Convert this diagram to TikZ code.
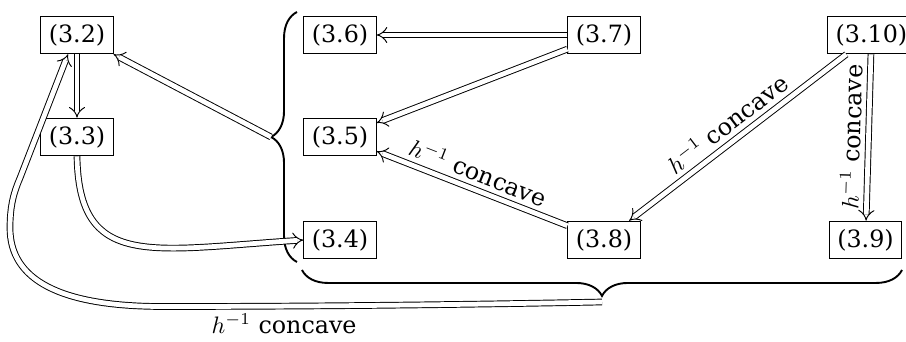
\documentclass[tikz,border=0pt]{standalone}
\usepackage[no-math]{fontspec}
\setmainfont{DejaVu Serif}
\usetikzlibrary{arrows.meta,decorations.pathreplacing}
\begin{document}
\begin{tikzpicture}[x=0.42pt,y=-0.42pt,
  box/.style={draw, line width=0.4pt, inner sep=3.33pt},
  imp/.style={double, double distance=2pt, line width=0.4pt, -{Implies}},
  brc/.style={decorate, decoration={brace, amplitude=10.9pt}, line width=0.8pt},
  lab/.style={sloped, above, inner sep=3pt}]
\useasboundingbox (0,0) rectangle (906,342);
\node[box] (n32) at (77,35) {(3.2)};
\node[box] (n33) at (77,137) {(3.3)};
\node[box] (n36) at (340,35) {(3.6)};
\node[box] (n35) at (340,137) {(3.5)};
\node[box] (n34) at (340,240) {(3.4)};
\node[box] (n37) at (604,35) {(3.7)};
\node[box] (n38) at (604,240) {(3.8)};
\node[box] (n310) at (871.5,35) {(3.10)};
\node[box] (n39) at (865.5,240) {(3.9)};
\draw[brc] (297,262) -- (297,12);
\coordinate (b1tip) at (271,137);
\draw[brc] (902,270) -- (302,270);
\coordinate (b2tip) at (602,302);
\draw[imp] (n32) -- (n33);
\draw[imp] (n37) -- (n36);
\draw[imp] (n37) -- (n35);
\draw[imp] (n38) -- node[lab] {$h^{-1}$ concave} (n35);
\draw[imp] (n310) -- node[lab] {$h^{-1}$ concave} (n38);
\draw[imp] (n310) -- node[lab] {$h^{-1}$ concave} (n39);
\draw[imp] (b1tip) -- (n32);
\draw[imp] (n33.south) .. controls (79,270) and (150,250) .. (n34.west);
\draw[imp] (b2tip) .. controls (450,305) and (300,306.5) .. node[pos=0.71, below, inner sep=3pt] {$h^{-1}$ concave} (160,306.5)
  .. controls (60,306) and (10,280) .. (10,228)
  .. controls (10,205) and (14,192) .. (20,178) -- (n32.245);
\end{tikzpicture}
\end{document}
